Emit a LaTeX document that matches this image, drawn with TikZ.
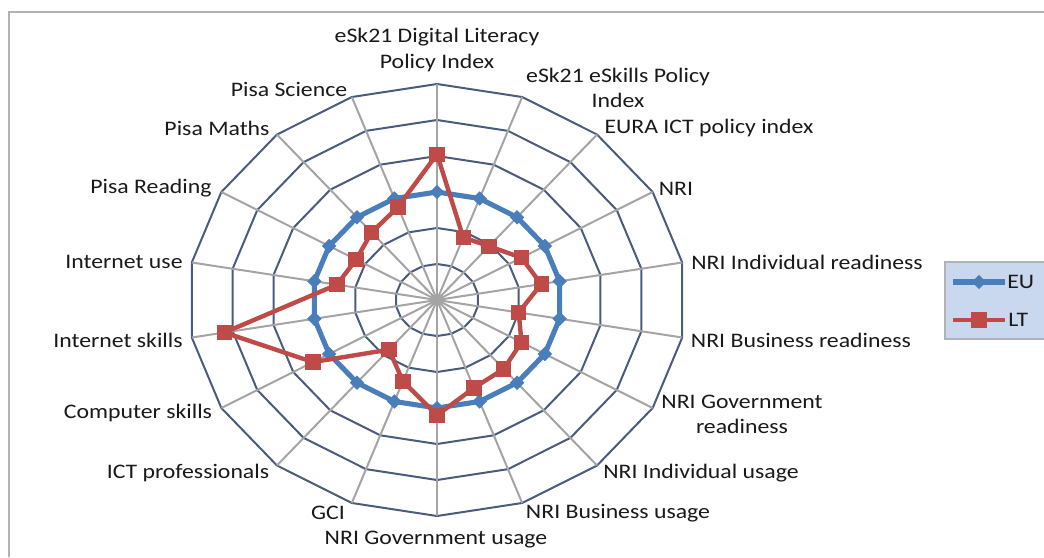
\documentclass[tikz,border=0pt]{standalone}
\usepackage{fontspec}
\usetikzlibrary{shapes.geometric}
\setmainfont{Carlito}
\definecolor{eublue}{HTML}{4A7EBB}
\definecolor{ltred}{HTML}{BE4B48}
\definecolor{ringcol}{HTML}{4A5C7E}
\definecolor{spokecol}{HTML}{A4A4A4}
\definecolor{legfill}{HTML}{C9D8EE}
\begin{document}
\begin{tikzpicture}[x=0.75pt,y=-0.75pt,
	ring/.style={ringcol, line width=1.5pt, line join=round},
	spoke/.style={spokecol, line width=1.5pt},
	lbl/.style={font=\fontsize{15.5}{18.8}\selectfont, text=black!90, inner sep=0pt, xscale=1.15, align=center},
	euline/.style={eublue, line width=3.8pt, line join=round},
	ltline/.style={ltred, line width=3.3pt, line join=round},
	eumark/.style={diamond, fill=eublue, inner sep=0pt, minimum width=11pt, minimum height=11pt},
	ltmark/.style={rectangle, fill=ltred, inner sep=0pt, minimum size=11.5pt}]
		\useasboundingbox (0,0) rectangle (1044,557);
		%frame
		\draw[black!30, line width=1.5pt] (9,557) -- (9,11.5) -- (1044,11.5);
		
		%rings
		\foreach \r in {1,...,6}{
			\draw[ring] (437, {300-36*\r}) \foreach \i in {1,...,17}{
				-- ({437+41.5*\r*sin(20*\i)}, {300-36*\r*cos(20*\i)})} -- cycle;
		}
		%spokes
		\foreach \i in {0,...,17}{
			\draw[spoke] (437,300) -- ({437+41.5*6*sin(20*\i)}, {300-36*6*cos(20*\i)});
		}
		
		%EU
		\foreach \i in {0,...,17}{
			\coordinate (eu\i) at ({437+41.5*3*sin(20*\i)}, {300-36*3*cos(20*\i)});
		}
		\draw[euline] (eu0) \foreach \i in {1,...,17}{ -- (eu\i)} -- cycle;
		\foreach \i in {0,...,17}{
			\node[eumark] at (eu\i){};
		}
		
		%LT
		\foreach \v [count=\i from 0] in {4.05, 1.85, 1.95, 2.35, 2.55, 2.0, 2.35, 2.5, 2.6, 3.2, 2.4, 1.8, 3.45, 5.2, 2.45, 2.25, 2.45, 2.75}{
			\coordinate (lt\i) at ({437+41.5*\v*sin(20*\i)}, {300-36*\v*cos(20*\i)});
		}
		\draw[ltline] (lt0) \foreach \i in {1,...,17}{ -- (lt\i)} -- cycle;
		\foreach \i in {0,...,17}{
			\node[ltmark] at (lt\i){};
		}
		
		%labels
		\node[lbl] (dlp) at (437, 50){eSk21 Digital Literacy\\Policy Index};
		\node[lbl] (esp) at (618, 88){eSk21 eSkills Policy\\Index};
		\node[lbl] (eura) at (709, 128){EURA ICT policy index};
		\node[lbl] (nri) at (676, 189){NRI};
		\node[lbl] (nriir) at (807, 262){NRI Individual readiness};
		\node[lbl] (nribr) at (801, 340){NRI Business readiness};
		\node[lbl] (nrigr) at (742, 414){NRI Government\\readiness};
		\node[lbl] (nriiu) at (701, 473){NRI Individual usage};
		\node[lbl] (nribu) at (618, 513){NRI Business usage};
		\node[lbl] (nrigu) at (436, 540){NRI Government usage};
		\node[lbl] (gci) at (328, 513){GCI};
		\node[lbl] (ictp) at (188, 473){ICT professionals};
		\node[lbl] (comp) at (138, 413){Computer skills};
		\node[lbl] (iskl) at (118, 340){Internet skills};
		\node[lbl] (iuse) at (124, 262){Internet use};
		\node[lbl] (pread) at (151, 188){Pisa Reading};
		\node[lbl] (pmath) at (217, 128){Pisa Maths};
		\node[lbl] (psci) at (289, 89){Pisa Science};
		
		%legend
		\fill[legfill] (945,262) rectangle (1044,339);
		\draw[black!30, line width=0.8pt] (1044,339) -- (945,339) -- (945,262) -- (1044,262);
		\draw[euline] (953,282) -- (1005,282);
		\node[eumark] (eukey) at (979,282){};
		\node[lbl, anchor=west] (eutxt) at (1007,282){EU};
		\draw[ltline] (953,320) -- (1005,320);
		\node[ltmark] (ltkey) at (979,320){};
		\node[lbl, anchor=west] (lttxt) at (1008,320){LT};
\end{tikzpicture}
\end{document}
